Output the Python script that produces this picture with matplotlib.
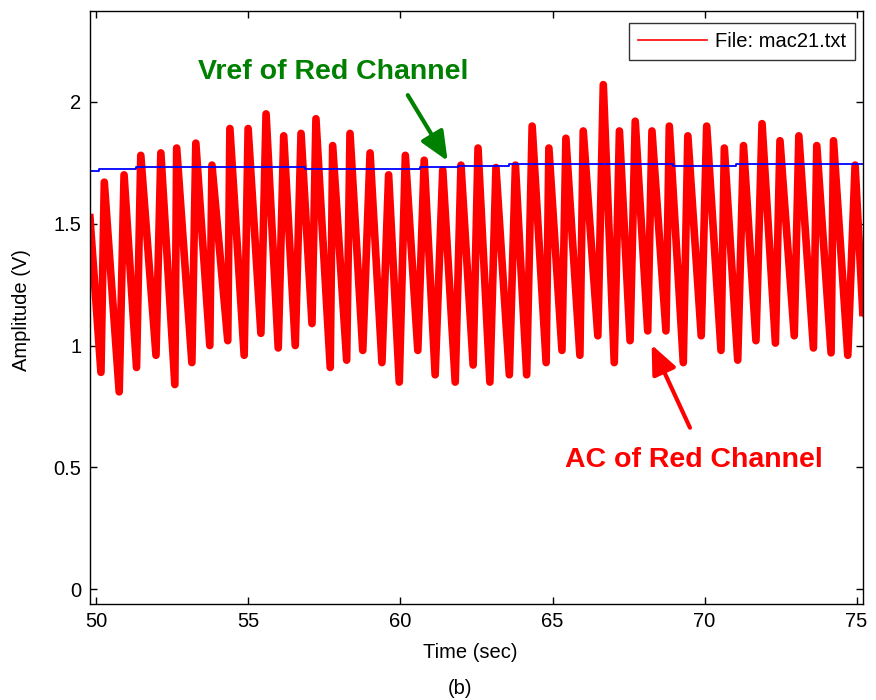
import matplotlib.pyplot as plt
import numpy as np
from matplotlib.lines import Line2D

# --- data (time in s, amplitude in V) ---
# AC of red channel: foot (trough) and peak of every pulse
trough_t = np.array([50.15, 50.75, 51.32, 51.96, 52.58, 53.14, 53.73, 54.32, 54.86, 55.41,
                     55.98, 56.54, 57.09, 57.69, 58.23, 58.76, 59.39, 59.96, 60.57, 61.14,
                     61.80, 62.39, 62.94, 63.58, 64.15, 64.79, 65.31, 65.90, 66.49, 67.03,
                     67.55, 68.13, 68.73, 69.30, 69.89, 70.54, 71.09, 71.69, 72.33, 72.95,
                     73.58, 74.16, 74.71])
trough_v = np.array([0.89, 0.81, 0.91, 0.96, 0.84, 0.93, 1.00, 1.02, 0.96, 1.05,
                     0.99, 1.00, 1.09, 0.91, 0.94, 0.98, 0.93, 0.85, 0.98, 0.88,
                     0.85, 0.92, 0.85, 0.88, 0.88, 0.93, 0.98, 0.96, 1.04, 0.93,
                     1.02, 1.06, 1.06, 0.93, 1.04, 0.98, 0.94, 1.02, 1.01, 1.04,
                     0.99, 0.97, 0.96])
peak_t = np.array([50.26, 50.91, 51.46, 52.12, 52.64, 53.27, 53.80, 54.39, 54.99, 55.58,
                   56.16, 56.73, 57.22, 57.77, 58.34, 59.00, 59.61, 60.16, 60.78, 61.39,
                   61.99, 62.55, 63.14, 63.78, 64.33, 64.88, 65.44, 66.01, 66.67, 67.20,
                   67.72, 68.27, 68.84, 69.45, 70.07, 70.65, 71.28, 71.89, 72.48, 73.10,
                   73.69, 74.24, 74.95])
peak_v = np.array([1.67, 1.70, 1.78, 1.79, 1.81, 1.83, 1.74, 1.89, 1.89, 1.95,
                   1.86, 1.87, 1.93, 1.82, 1.87, 1.79, 1.70, 1.78, 1.76, 1.72,
                   1.74, 1.81, 1.73, 1.74, 1.90, 1.81, 1.85, 1.88, 2.07, 1.88,
                   1.92, 1.88, 1.90, 1.86, 1.90, 1.81, 1.82, 1.91, 1.84, 1.86,
                   1.82, 1.84, 1.74])
start_t, start_v = 49.78, 1.54
end_t, end_v = 75.21, 1.12

# Vref of red channel (slow stepping level)
vref_t = [49.78, 50.08, 51.30, 56.87, 60.64, 61.88, 63.58, 68.95, 71.04, 75.21]
vref_v = [1.717, 1.725, 1.731, 1.723, 1.731, 1.736, 1.745, 1.736, 1.745, 1.745]

# build the pulse trace: start, trough, peak, trough, peak ... end
sig_t = np.concatenate([[start_t], np.column_stack([trough_t, peak_t]).ravel(), [end_t]])
sig_v = np.concatenate([[start_v], np.column_stack([trough_v, peak_v]).ravel(), [end_v]])

FS = 14.5
plt.rcParams['font.family'] = ['Liberation Sans', 'DejaVu Sans']

fig = plt.figure(figsize=(8.76, 7.0), dpi=100)
ax = fig.add_axes([89.7 / 876, 1 - 604 / 700, (863 - 89.7) / 876, (604 - 10.5) / 700])

# thick band for the noisy pulse, thin line for the spike tips
ax.plot(sig_t, sig_v, color='red', lw=5.5, solid_joinstyle='round',
        solid_capstyle='butt', zorder=2)
ax.plot(sig_t, sig_v, color='red', lw=1.2, solid_joinstyle='miter', zorder=2)
ax.step(vref_t, vref_v, where='post', color='blue', lw=1.3, zorder=3)

ax.set_xlim(49.78, 75.21)
ax.set_ylim(-0.06, 2.374)
ax.set_xticks([50, 55, 60, 65, 70, 75])
ax.set_yticks([0, 0.5, 1, 1.5, 2])
ax.set_yticklabels(['0', '0.5', '1', '1.5', '2'])
ax.tick_params(direction='in', length=5, width=1, top=True, right=True,
               labelsize=FS, pad=6)
for s in ax.spines.values():
    s.set_linewidth(1)
    s.set_zorder(4)

# labels
fig.text(470 / 876, 1 - 652 / 700, 'Time (sec)', ha='center', va='center', fontsize=FS)
fig.text(460 / 876, 1 - 688 / 700, '(b)', ha='center', va='center', fontsize=FS)
fig.text(22 / 876, 1 - 310 / 700, 'Amplitude (V)', ha='center', va='center',
         rotation=90, fontsize=FS)

# legend
leg = ax.legend(handles=[Line2D([], [], color='red', lw=1.2)], labels=['File: mac21.txt'],
                loc='upper right', bbox_to_anchor=(0.9897, 0.979), borderaxespad=0,
                fancybox=False, fontsize=FS, handlelength=3.4, handletextpad=0.4,
                borderpad=0.45)
leg.get_frame().set_edgecolor('black')
leg.get_frame().set_linewidth(1)

# annotations
ax.text(57.78, 2.122, 'Vref of Red Channel', color='#008000', fontsize=20.5,
        fontweight='bold', ha='center', va='center')
ax.annotate('', xy=(61.55, 1.757), xytext=(60.24, 2.027),
            arrowprops=dict(arrowstyle='-|>,head_length=0.8,head_width=0.35',
                            color='#008000', lw=3, mutation_scale=22, shrinkA=0, shrinkB=0))
ax.text(69.65, 0.532, 'AC of Red Channel', color='red', fontsize=20.5,
        fontweight='bold', ha='center', va='center')
ax.annotate('', xy=(68.26, 1.003), xytext=(69.52, 0.663),
            arrowprops=dict(arrowstyle='-|>,head_length=0.8,head_width=0.35',
                            color='red', lw=3, mutation_scale=22, shrinkA=0, shrinkB=0))

fig.savefig('out.png', dpi=100)
